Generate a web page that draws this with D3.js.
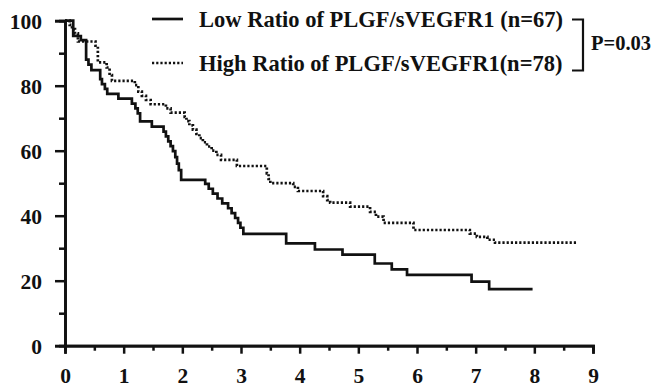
<!DOCTYPE html>
<html><head><meta charset="utf-8">
<script src="https://cdn.jsdelivr.net/npm/d3@7"></script>
<style>
html,body{margin:0;padding:0;background:#fff;}
text{font-family:"Liberation Serif","Times New Roman",serif;font-weight:bold;fill:#111;}
</style></head>
<body><svg id="c" width="653" height="390"></svg>
<script>
// Data (Kaplan-Meier steps: time in years, survival %)
const lowTimes = [0,0.14,0.27,0.36,0.40,0.45,0.60,0.63,0.68,0.72,0.91,1.14,1.20,1.24,1.28,1.48,1.68,1.72,1.76,1.80,1.84,1.88,1.91,1.94,1.98,2.39,2.45,2.52,2.60,2.68,2.78,2.84,2.90,2.95,2.99,3.04,3.77,4.26,4.73,5.28,5.57,5.83,6.93,7.23,7.97];
const lowSurv  = [100,95.3,94.0,88.0,86.5,84.8,82.0,80.5,79.0,77.5,76.0,74.5,73.0,71.5,69.0,67.4,65.9,64.4,62.9,61.4,59.9,58.0,56.0,54.0,51.0,49.8,48.3,46.8,45.3,43.8,42.3,40.8,39.3,37.8,36.3,34.4,31.5,29.6,28.0,25.3,23.5,21.8,19.7,17.4,17.4];
const highTimes = [0,0.08,0.12,0.17,0.22,0.52,0.56,0.71,0.76,0.80,1.19,1.25,1.31,1.38,1.46,1.72,1.80,2.04,2.07,2.12,2.18,2.24,2.29,2.35,2.42,2.50,2.58,2.66,2.93,3.44,3.47,3.50,3.89,3.97,4.40,4.47,4.52,4.86,5.20,5.30,5.43,5.94,6.90,7.02,7.20,7.33,8.72];
const highSurv  = [100,98.7,97.4,96.1,93.6,92.3,87.2,85.6,83.3,81.5,80.2,78.2,76.9,75.6,74.3,73.0,71.7,70.4,69.1,67.8,66.5,65.2,63.9,62.6,61.3,60.0,58.7,57.2,55.3,53.0,51.3,50.0,48.9,47.6,46.0,44.8,44.0,42.8,41.2,39.7,37.8,35.6,34.5,33.5,32.6,31.7,31.7];
const xTicks = [0,1,2,3,4,5,6,7,8,9];
const yTicks = [0,20,40,60,80,100];
const seriesLabels = ["Low Ratio of PLGF/sVEGFR1 (n=67)","High Ratio of PLGF/sVEGFR1(n=78)"];
const pLabel = "P=0.03";

const svg = d3.select("#c");
const x = d3.scaleLinear().domain([0,9]).range([65,593]);
const y = d3.scaleLinear().domain([0,100]).range([345.7,20.7]);
const ink = "#111";

// minor ticks
const gxm = svg.append("g").attr("transform","translate(0,345.7)")
  .call(d3.axisBottom(x).tickValues(d3.range(0.5,9,1)).tickSize(5).tickFormat(""));
const gym = svg.append("g").attr("transform","translate(65,0)")
  .call(d3.axisLeft(y).tickValues(d3.range(10,100,20)).tickSize(6).tickFormat(""));
// major
const gx = svg.append("g").attr("transform","translate(0,345.7)")
  .call(d3.axisBottom(x).tickValues(xTicks).tickSize(8).tickPadding(14).tickFormat(d3.format("d")));
const gy = svg.append("g").attr("transform","translate(65,0)")
  .call(d3.axisLeft(y).tickValues(yTicks).tickSize(10).tickPadding(13).tickFormat(d3.format("d")));
[gxm,gym,gx,gy].forEach(g=>{
  g.selectAll("path.domain").attr("stroke",ink).attr("stroke-width",2.7);
  g.selectAll(".tick line").attr("stroke",ink).attr("stroke-width",2.5);
});
gx.selectAll(".tick text").attr("font-size",21.5).attr("fill",ink).attr("dy","0.71em");
gy.selectAll(".tick text").attr("font-size",21.5).attr("fill",ink).attr("dy","0.34em");
svg.selectAll(".tick text").style("font-family","'Liberation Serif',serif").style("font-weight","bold");

const line = d3.line().x(d=>x(d[0])).y(d=>y(d[1])).curve(d3.curveStepAfter);
const low = lowTimes.map((t,i)=>[t,lowSurv[i]]);
const high = highTimes.map((t,i)=>[t,highSurv[i]]);
svg.append("path").datum(high).attr("d",line).attr("fill","none")
  .attr("stroke",ink).attr("stroke-width",2.7).attr("stroke-dasharray","2.2,2");
svg.append("path").datum(low).attr("d",line).attr("fill","none")
  .attr("stroke",ink).attr("stroke-width",2.7);

// legend
svg.append("line").attr("x1",152).attr("x2",183).attr("y1",19).attr("y2",19)
  .attr("stroke",ink).attr("stroke-width",2.7);
svg.append("line").attr("x1",152).attr("x2",183).attr("y1",63).attr("y2",63)
  .attr("stroke",ink).attr("stroke-width",2.7).attr("stroke-dasharray","2.2,2");
svg.append("text").attr("x",199).attr("y",27).attr("font-size",22.5).text(seriesLabels[0]);
svg.append("text").attr("x",199).attr("y",71).attr("font-size",22.5).text(seriesLabels[1]);
svg.append("path").attr("d","M572,19.5H583V70.5H572").attr("fill","none")
  .attr("stroke",ink).attr("stroke-width",2.2);
svg.append("text").attr("x",591).attr("y",50).attr("font-size",20.5).text(pLabel);
</script></body></html>
